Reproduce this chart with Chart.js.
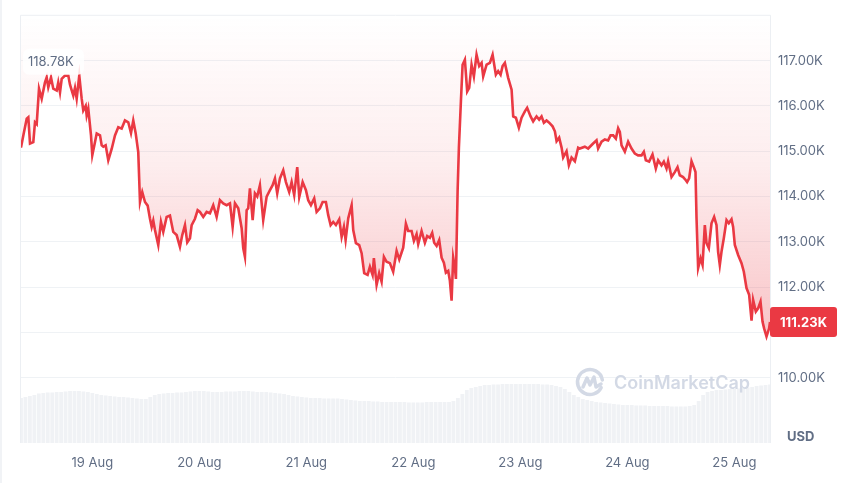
<!DOCTYPE html>
<html>
<head>
<meta charset="utf-8">
<script src="https://cdn.jsdelivr.net/npm/chart.js@4/dist/chart.umd.min.js"></script>
<style>
  html, body { margin: 0; padding: 0; background: #fff; }
  #wrap { position: relative; width: 867px; height: 483px; }
</style>
</head>
<body>
<div id="wrap"><canvas id="chart"></canvas></div>
<script>
// hours since 18 Aug 08:00, price in thousands USD
const hours = [
  0, 0.52, 1.28, 1.64, 2.02, 2.76, 3.14, 3.52, 4.04, 4.64, 5.38, 5.76, 6.12, 6.73, 7.24, 8.01, 8.36, 8.75, 9.13, 9.87,
  10.61, 10.99, 11.73, 12.11, 12.49, 13.07, 13.61, 13.97, 14.51, 14.73, 15.09, 15.70, 15.99, 16.59, 16.98, 17.72, 18.10, 18.46, 18.99, 19.58,
  20.34, 21.08, 21.82, 22.58, 23.32, 24.06, 24.67, 25.18, 25.72, 26.30, 26.69, 27.20, 27.81, 28.41, 28.93, 29.31, 29.67, 30.05, 30.79, 31.39,
  31.91, 32.67, 33.41, 34.15, 34.91, 35.65, 36.17, 36.78, 37.29, 37.90, 38.28, 39.02, 39.62,
  40.14, 40.88, 41.64, 42.38, 43.12, 43.88, 44.62, 45.36, 46.13, 46.87, 47.47, 47.99, 48.73, 49.49, 49.85, 50.23, 50.61, 50.97, 51.35, 51.96,
  52.47, 52.99, 53.59, 54.33, 55.10, 55.84, 56.44, 56.96, 57.47, 58.08, 58.82, 59.42, 60.16, 60.70, 61.28, 61.96, 62.41, 63.17, 63.91, 64.42,
  65.03, 65.77, 66.31, 67.05, 67.66, 68.39, 68.91, 69.45, 70.03, 70.64, 71.38, 71.92, 72.43, 72.81, 73.40, 74.16, 74.52, 75.12, 75.86, 76.40,
  76.98, 77.74, 78.26, 78.86, 79.15, 79.76, 80.34, 80.88, 81.40, 82.00, 82.74, 83.48, 84.25, 84.85,
  85.73, 86.33, 86.85, 87.61, 88.13, 88.73, 89.09, 89.85, 90.59, 91.11, 91.71, 92.23, 92.68, 93.22, 93.80, 94.34, 94.85, 95.30, 95.82, 96.20,
  96.58, 96.94, 97.32, 97.55, 97.93, 98.22, 98.67, 99.05, 99.56, 100.08, 100.53, 101.06, 101.58, 102.18, 102.77, 103.31, 103.67, 104.43, 105.17, 105.78,
  106.51, 107.03, 107.57, 108.02, 108.53, 109.27, 110.04, 110.40, 111.00, 111.67, 112.28, 113.02, 113.53, 114.30, 114.88, 115.64, 116.22, 116.76, 117.28, 117.88,
  118.47, 119.23, 119.75, 120.13, 120.71, 121.25, 121.61, 122.37, 122.89, 123.49, 124.23, 124.97,
  125.35, 126.47, 127.21, 128.33, 129.09, 129.45, 130.22, 130.96, 131.69, 132.23, 132.82, 133.42, 133.94, 134.32, 134.70, 135.44, 136.18, 136.94, 137.68, 138.42,
  139.18, 139.70, 140.15, 140.89, 141.65, 142.39, 142.91, 143.67, 144.19, 144.79, 145.15, 145.91, 146.65, 147.26, 147.77, 148.51, 149.12, 149.41, 149.86, 150.40,
  150.91, 151.29, 151.52, 151.88, 152.42, 152.87, 153.38, 153.76, 154.28, 154.88, 155.47, 156.00, 156.36, 156.74, 157.12, 157.64, 158.25, 158.76, 159.37, 159.73,
  160.11, 160.85, 161.61, 162.13, 162.73, 163.32, 163.86, 164.21, 164.82, 165.33, 165.87, 166.32, 166.68, 167.22, 167.80, 168
];
const prices = [
  115.08, 115.35, 115.72, 115.75, 115.17, 115.2, 115.64, 115.6, 116.38, 116.16, 116.52, 116.63, 116.41, 116.63, 116.38, 116.34, 116.52, 116.3, 116.6, 116.67,
  116.67, 116.47, 116.23, 116.4, 116.16, 116.67, 116.16, 115.9, 116.0, 115.79, 115.94, 115.35, 114.91, 115.2, 115.39, 115.35, 115.13, 115.1, 115.13, 114.8,
  115.05, 115.35, 115.53, 115.5, 115.68, 115.64, 115.4, 115.68, 115.4, 114.98, 113.88, 114.1, 113.88, 113.8, 113.51, 113.33, 113.47, 113.26, 112.93, 113.44,
  113.22, 113.55, 113.58, 113.22, 113.15, 112.89, 113.15, 113.37, 112.99, 113.08, 113.37, 113.51, 113.70,
  113.66, 113.55, 113.66, 113.63, 113.81, 113.55, 113.92, 113.85, 113.81, 113.85, 113.33, 113.85, 113.74, 113.3, 112.86, 112.67, 113.7, 113.74, 114.18, 113.48,
  114.07, 114.0, 114.25, 113.48, 114.0, 114.14, 114.25, 114.4, 114.07, 114.4, 114.58, 114.32, 114.1, 114.32, 114.03, 114.65, 113.99, 114.32, 114.14, 113.92,
  113.81, 113.96, 113.66, 113.74, 113.88, 113.88, 113.59, 113.37, 113.44, 113.37, 113.5, 113.11, 113.33, 113.04, 113.52, 113.81, 113.26, 112.97, 112.93, 112.75,
  112.31, 112.27, 112.45, 112.27, 112.64, 112.05, 112.31, 112.12, 112.67, 112.56, 112.53, 112.34, 112.8, 112.61,
  112.87, 113.4, 113.24, 113.24, 113.02, 113.17, 112.95, 113.24, 112.98, 113.13, 113.09, 113.2, 112.98, 112.91, 113.04, 112.65, 112.54, 112.32, 112.36, 112.14,
  111.7, 112.65, 112.43, 112.18, 114.12, 115.08, 116.1, 116.91, 117.02, 116.32, 116.4, 116.91, 116.65, 117.13, 116.88, 116.95, 116.65, 116.91, 116.95, 117.13,
  116.69, 116.77, 116.69, 116.88, 116.95, 116.62, 116.36, 115.77, 115.74, 115.52, 115.74, 115.88, 115.96, 115.77, 115.66, 115.77, 115.7, 115.77, 115.63, 115.68,
  115.63, 115.55, 115.44, 115.22, 115.3, 115.08, 114.86, 115.0, 114.69, 114.86, 114.78, 115.08,
  115.06, 115.1, 115.06, 115.17, 115.24, 115.06, 115.21, 115.26, 115.24, 115.35, 115.35, 115.28, 115.51, 115.43, 115.13, 114.99, 115.21, 115.06, 114.95, 114.91,
  114.91, 114.99, 114.8, 114.77, 114.93, 114.62, 114.8, 114.69, 114.77, 114.62, 114.78, 114.43, 114.54, 114.65, 114.47, 114.43, 114.36, 114.32, 114.4, 114.78,
  114.65, 114.54, 113.52, 112.42, 112.64, 112.49, 113.37, 112.97, 112.86, 113.41, 113.55, 113.37, 112.78, 112.49, 112.78, 113.08, 113.48, 113.41, 113.5, 113.33,
  112.93, 112.71, 112.53, 112.34, 111.98, 111.83, 111.26, 111.72, 111.46, 111.53, 111.68, 111.24, 111.09, 110.91, 111.09, 111.23
];
// hourly volume, billions USD (index = hour)
const volumes = [
  73.6, 75.3, 76.9, 78.5, 81.0, 81.8, 82.6, 82.6, 83.4, 83.4, 84.3, 85.1, 85.1, 85.1, 84.3, 83.4, 81.8, 80.2, 78.5, 77.7,
  76.9, 76.1, 75.3, 75.3, 74.4, 73.6, 72.8, 72.0, 72.0, 75.3, 78.5, 80.2, 81.0, 81.8, 81.8, 82.6, 82.6, 83.4, 84.3, 85.1,
  85.1, 85.1, 84.3, 83.4, 83.4, 83.4, 84.3, 84.3, 84.3, 85.1, 85.1, 85.1, 84.3, 83.4, 83.4, 83.4, 82.6, 81.8, 81.0, 80.2,
  78.5, 76.9, 76.1, 75.3, 74.4, 73.6, 73.6, 73.6, 72.8, 72.8, 72.8, 72.8, 72.0, 71.2, 70.3, 69.5, 68.7, 68.7, 68.7, 67.9,
  67.9, 67.1, 67.1, 67.1, 67.1, 67.1, 67.1, 66.3, 66.3, 66.3, 66.3, 67.1, 67.1, 67.1, 67.1, 67.1, 67.1, 68.7, 73.6, 80.2,
  86.7, 90.0, 91.6, 93.3, 94.9, 94.9, 95.7, 95.7, 96.5, 96.5, 96.5, 96.5, 96.5, 96.5, 96.5, 96.5, 96.5, 95.7, 95.7, 94.9,
  93.3, 91.6, 88.3, 83.4, 78.5, 75.3, 72.0, 70.3, 68.7, 67.1, 66.3, 65.4, 64.6, 63.8, 63.0, 62.2, 62.2, 62.2, 61.4, 61.4,
  61.4, 60.5, 60.5, 60.5, 60.5, 60.5, 59.7, 59.7, 59.7, 59.7, 60.5, 62.2, 68.7, 78.5, 83.4, 85.1, 86.7, 86.7, 87.5, 88.3,
  88.3, 89.2, 90.0, 90.8, 91.6, 93.3, 94.1, 94.9, 95.7
];
const dayLabels = ["19 Aug", "20 Aug", "21 Aug", "22 Aug", "23 Aug", "24 Aug", "25 Aug"];
const dayTickHours = [16, 40, 64, 88, 112, 136, 160];
const priceTicks = [110, 111, 112, 113, 114, 115, 116, 117];
const highLabel = "118.78K";
const lastPrice = 111.23;

const red = "#ea3943";
const gridColor = "#eff2f5";
const textColor = "#616e85";

const overlay = {
  id: "overlay",
  afterDatasetsDraw(chart) {
    const { ctx, chartArea } = chart;
    ctx.save();
    // watermark
    ctx.strokeStyle = "#d3d9e5";
    ctx.lineWidth = 3.5;
    ctx.lineCap = "round";
    ctx.lineJoin = "round";
    const cx = chartArea.right - 180, cy = chartArea.bottom - 61;
    ctx.beginPath();
    ctx.arc(cx, cy, 12.5, Math.PI * 0.15, Math.PI * 1.95);
    ctx.stroke();
    ctx.beginPath();
    ctx.moveTo(cx - 7, cy + 5);
    ctx.lineTo(cx - 3, cy - 4);
    ctx.lineTo(cx, cy + 3);
    ctx.lineTo(cx + 4, cy - 5);
    ctx.lineTo(cx + 6, cy + 5);
    ctx.lineTo(cx + 11, cy + 2);
    ctx.stroke();
    ctx.fillStyle = "#d3d9e5";
    ctx.font = "600 18px Inter";
    ctx.textBaseline = "middle";
    ctx.fillText("CoinMarketCap", cx + 24, cy + 2);
    ctx.restore();
  },
  afterDraw(chart) {
    const { ctx, chartArea, scales } = chart;
    ctx.save();
    // frame
    ctx.strokeStyle = "#eceff3";
    ctx.lineWidth = 1;
    ctx.beginPath();
    ctx.moveTo(chartArea.left - 0.5, chartArea.bottom);
    ctx.lineTo(chartArea.left - 0.5, chartArea.top - 0.5);
    ctx.lineTo(chartArea.right + 0.5, chartArea.top - 0.5);
    ctx.lineTo(chartArea.right + 0.5, chartArea.bottom);
    ctx.stroke();
    ctx.fillStyle = "#f1f3f6";
    ctx.fillRect(0, 0, 2, chart.height);

    // high label
    ctx.font = "13px Inter";
    ctx.textBaseline = "middle";
    const hy = chartArea.top + 46;
    ctx.fillStyle = "rgba(255,255,255,0.85)";
    ctx.beginPath();
    ctx.roundRect(chartArea.left + 2, hy - 13, 61, 26, 6);
    ctx.fill();
    ctx.fillStyle = textColor;
    ctx.fillText(highLabel, chartArea.left + 7, hy);

    // last price tag
    const py = scales.y.getPixelForValue(lastPrice);
    ctx.fillStyle = red;
    ctx.beginPath();
    ctx.roundRect(chartArea.right, py - 15, 67, 30, 3);
    ctx.fill();
    ctx.fillStyle = "#fff";
    ctx.font = "bold 13px Inter";
    ctx.textAlign = "center";
    ctx.fillText(lastPrice.toFixed(2) + "K", chartArea.right + 33.5, py + 1);

    // currency
    ctx.fillStyle = textColor;
    ctx.font = "bold 13px Inter";
    ctx.textAlign = "left";
    ctx.fillText("USD", chartArea.right + 17, chartArea.bottom - 6);
    ctx.restore();
  }
};

new Chart(document.getElementById("chart"), {
  type: "line",
  data: {
    datasets: [
      {
        label: "Price",
        data: hours.map((h, i) => ({ x: h, y: prices[i] })),
        borderColor: red,
        borderWidth: 2.6,
        pointRadius: 0,
        tension: 0,
        fill: "end",
        backgroundColor(context) {
          const { ctx, chartArea } = context.chart;
          if (!chartArea) return "rgba(234,57,67,0.1)";
          const g = ctx.createLinearGradient(0, chartArea.top, 0, chartArea.bottom);
          g.addColorStop(0, "rgba(234,57,67,0)");
          g.addColorStop(0.35, "rgba(234,57,67,0.09)");
          g.addColorStop(0.7, "rgba(234,57,67,0.27)");
          g.addColorStop(1, "rgba(234,57,67,0.35)");
          return g;
        },
        yAxisID: "y",
        order: 1
      },
      {
        type: "bar",
        label: "Volume",
        data: volumes.map((v, i) => ({ x: i, y: v })),
        backgroundColor: "#f0f2f5",
        barPercentage: 0.85,
        categoryPercentage: 1,
        yAxisID: "vol",
        order: 2
      }
    ]
  },
  options: {
    responsive: true,
    maintainAspectRatio: false,
    animation: false,
    layout: { padding: { left: 21, top: 15, right: 0, bottom: 0 } },
    plugins: { legend: { display: false }, tooltip: { enabled: false } },
    scales: {
      x: {
        type: "linear",
        min: 0,
        max: 168,
        offset: false,
        grid: { display: false, drawTicks: false, offset: false },
        border: { display: false },
        afterBuildTicks(scale) {
          scale.ticks = dayTickHours.map((v) => ({ value: v }));
        },
        afterFit(scale) {
          scale.height = 40;
        },
        ticks: {
          autoSkip: false,
          maxRotation: 0,
          padding: 12,
          color: textColor,
          font: { family: "Inter", size: 13 },
          callback: (value) => dayLabels[dayTickHours.indexOf(value)]
        }
      },
      y: {
        position: "right",
        min: 108.56,
        max: 117.99,
        grid: { color: gridColor, drawTicks: false },
        border: { display: false },
        afterBuildTicks(scale) {
          scale.ticks = priceTicks.map((v) => ({ value: v }));
        },
        afterFit(scale) {
          scale.width = 97;
        },
        ticks: {
          padding: 8,
          color: textColor,
          font: { family: "Inter", size: 13 },
          callback: (value) => value.toFixed(2) + "K"
        }
      },
      vol: {
        display: false,
        min: 0,
        max: 700
      }
    }
  },
  plugins: [overlay]
});
</script>
</body>
</html>
